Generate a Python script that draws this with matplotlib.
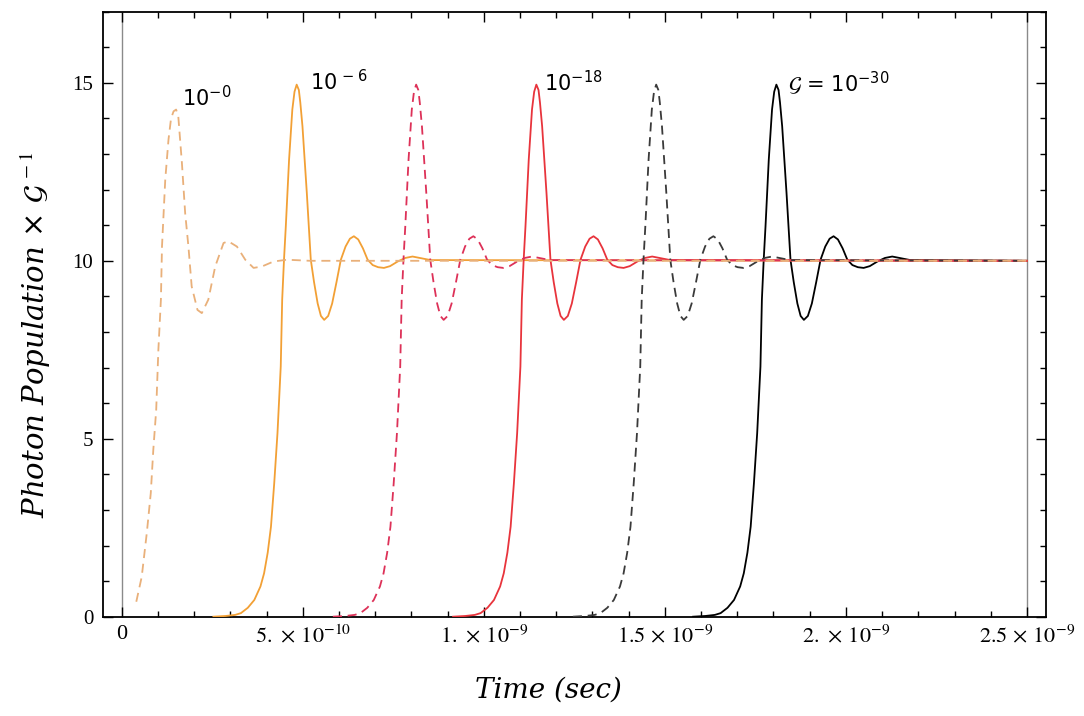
import numpy as np
import matplotlib
matplotlib.use("Agg")
import matplotlib.pyplot as plt
from matplotlib.ticker import FixedLocator, MultipleLocator

plt.rcParams["font.family"] = ["Liberation Serif", "DejaVu Serif"]
plt.rcParams["mathtext.fontset"] = "stix"

# ---------- data (time in ns, population x G^-1) ----------
# first curve (G = 10^-0) has its own shape
t_g0 = [0.040, 0.055, 0.069, 0.080, 0.087, 0.095, 0.101, 0.108, 0.111, 0.120,
        0.129, 0.136, 0.143, 0.150, 0.156, 0.166, 0.175, 0.184, 0.193, 0.209,
        0.221, 0.239, 0.258, 0.281, 0.294, 0.318, 0.341, 0.364, 0.387, 0.419,
        0.456, 0.520, 2.500]
n_g0 = [0.42, 1.12, 2.35, 3.47, 4.69, 5.81, 7.50, 8.91, 10.40, 12.28,
        13.41, 14.00, 14.20, 14.25, 14.06, 12.75, 11.34, 10.40, 9.28, 8.62,
        8.53, 8.91, 9.84, 10.50, 10.55, 10.40, 10.03, 9.80, 9.84, 9.98,
        10.03, 10.00, 10.00]

# the other curves share one pulse shape, read off the G = 10^-30 curve,
# given as time relative to the first peak
pulse_dt = [-0.230, -0.196, -0.170, -0.154, -0.135, -0.117, -0.100, -0.090,
            -0.080, -0.071, -0.062, -0.053, -0.044, -0.040, -0.035, -0.030,
            -0.021, -0.012, -0.006, 0.000, 0.006, 0.010, 0.016, 0.028,
            0.039, 0.048, 0.058, 0.067, 0.076, 0.087, 0.098, 0.110, 0.122,
            0.135, 0.147, 0.158, 0.170, 0.183, 0.196, 0.210, 0.225, 0.241,
            0.258, 0.279, 0.300, 0.320, 0.345, 0.370]
pulse_n = [0.00, 0.02, 0.05, 0.10, 0.25, 0.47, 0.85, 1.22,
           1.80, 2.53, 3.75, 5.16, 7.03, 8.91, 10.03, 10.97,
           12.84, 14.25, 14.75, 14.95, 14.80, 14.45, 13.78, 11.91,
           10.03, 9.40, 8.80, 8.45, 8.34, 8.45, 8.80, 9.40, 10.03,
           10.40, 10.62, 10.69, 10.60, 10.35, 10.03, 9.88, 9.82, 9.80,
           9.85, 9.98, 10.08, 10.12, 10.07, 10.02]

# peak time of each shifted pulse (ns)
peak_times = [0.483, 0.813, 1.145, 1.476, 1.808]
t_end = 2.5
n_steady = 10.0

names = ["1e-6", "1e-12", "1e-18", "1e-24", "1e-30"]
colors = ["#f2a035", "#dd3158", "#e8343c", "#3a3a3a", "#000000"]
styles = ["-", "--", "-", "--", "-"]

xtick_vals = [0.0, 0.5, 1.0, 1.5, 2.0, 2.5]
xtick_labels = ["0", r"$5.\,\times\,10^{-10}$", r"$1.\,\times\,10^{-9}$",
                r"$1.5\,\times\,10^{-9}$", r"$2.\,\times\,10^{-9}$",
                r"$2.5\,\times\,10^{-9}$"]
ytick_vals = [0, 5, 10, 15]

NS = 1e-9

fig = plt.figure(figsize=(10.84, 7.16), dpi=100)
ax = fig.add_axes([0.095, 0.1387, 0.8697, 0.845])

ax.axvline(0, color="#8a8a8a", lw=1.0, zorder=1)
ax.axvline(t_end * NS, color="#8a8a8a", lw=1.0, zorder=1)

# solid ones underneath, dashed on top
order = [4, 0, 2, 1, 3]
for i in order:
    t = [(peak_times[i] + d) * NS for d in pulse_dt] + [t_end * NS]
    n = list(pulse_n) + [n_steady]
    if styles[i] == "--":
        ax.plot(t, n, color=colors[i], lw=1.3, dashes=(5, 3.2), zorder=4)
    else:
        ax.plot(t, n, color=colors[i], lw=1.3, zorder=3)

ax.plot(np.array(t_g0) * NS, n_g0, color="#e9b07a", lw=1.3, dashes=(5, 3.2), zorder=4)

lab_kw = dict(fontfamily="DejaVu Sans", fontsize=15, math_fontfamily="dejavusans",
              ha="left", va="baseline", zorder=6)
ax.text(0.167 * NS, 14.35, r"$10^{-0}$", **lab_kw)
ax.text(0.520 * NS, 14.80, r"$10^{\,-6}$", **lab_kw)
ax.text(1.167 * NS, 14.76, r"$10^{-18}$", **lab_kw)
ax.text(1.841 * NS, 14.76, r"$\mathcal{G}$ = $10^{-30}$", **lab_kw)

ax.set_xlim(-0.052 * NS, 2.552 * NS)
ax.set_ylim(0, 17)
ax.xaxis.set_major_locator(FixedLocator([v * NS for v in xtick_vals]))
ax.set_xticklabels(xtick_labels)
ax.xaxis.set_minor_locator(MultipleLocator(0.1 * NS))
ax.yaxis.set_major_locator(FixedLocator(ytick_vals))
ax.yaxis.set_minor_locator(MultipleLocator(1))
ax.tick_params(which="both", direction="in", top=True, right=True, width=1.0)
ax.tick_params(which="major", length=7.5)
ax.tick_params(which="minor", length=4)
ax.tick_params(axis="x", labelsize=16, pad=6)
ax.tick_params(axis="y", labelsize=15, pad=7)
for s in ax.spines.values():
    s.set_linewidth(1.3)

fig.text(548 / 1084, 1 - 690 / 716, "Time (sec)", fontfamily="DejaVu Serif",
         style="italic", fontsize=20, ha="center", va="center")
fig.text(36 / 1084, 1 - 335 / 716, r"Photon Population × $\mathcal{G}^{\;-1}$",
         fontfamily="DejaVu Serif", style="italic", fontsize=21, rotation=90,
         ha="center", va="center")

fig.savefig("out.png", dpi=100)
